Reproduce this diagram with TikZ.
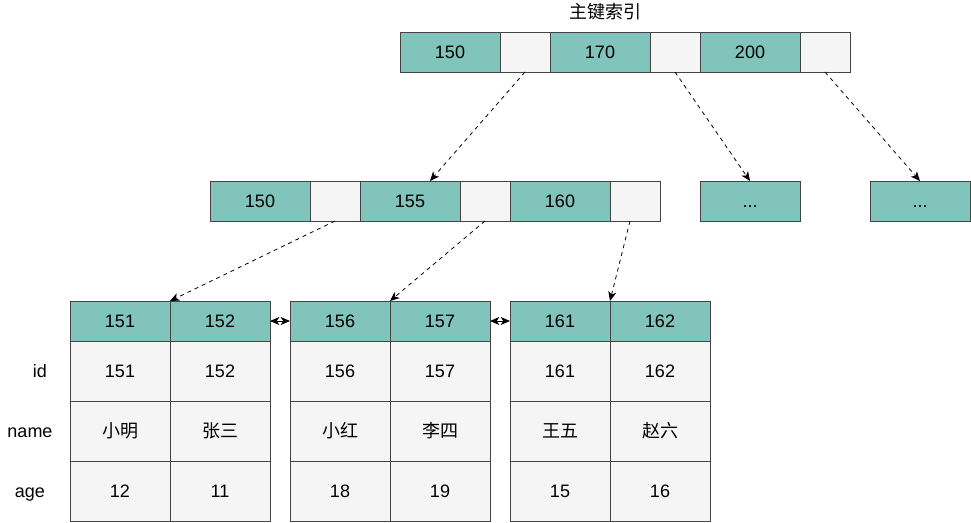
\documentclass[tikz,border=0pt]{standalone}
\usepackage{fontspec}
\setmainfont{Liberation Sans}
\newfontfamily\cjk{Noto Sans CJK SC}
\usepackage{tikz}
\usetikzlibrary{arrows.meta,calc,positioning}

\definecolor{keyfill}{RGB}{128,196,187}
\definecolor{ptrfill}{RGB}{245,245,245}
\definecolor{edgegray}{RGB}{68,68,68}

\tikzset{
  every node/.style={font=\fontsize{13.5}{16}\selectfont, inner sep=0pt, outer sep=0pt,
    text height=10.5pt, text depth=1pt},
  key/.style={draw=edgegray, fill=keyfill, minimum width=75pt, minimum height=30pt},
  ptr/.style={draw=edgegray, fill=ptrfill, minimum width=37.5pt, minimum height=30pt},
  rowcell/.style={draw=edgegray, fill=ptrfill, minimum width=75pt, minimum height=45pt},
  link/.style={->, dashed, line width=0.6pt}
}

\begin{document}
\begin{tikzpicture}[%
    >={Stealth[length=7pt, width=6pt, inset=2pt]},
    x=0.75pt,
    y=-0.75pt,
    line width=0.75pt
  ]
  \useasboundingbox (0,0) rectangle (971,522);

  % root page
  \node (title) at (605,12) {\cjk 主键索引};
  \node[key] (t150) at (450,52) {150};
  \node[ptr] (tp1) [right=0pt of t150] {};
  \node[key] (t170) [right=0pt of tp1] {170};
  \node[ptr] (tp2) [right=0pt of t170] {};
  \node[key] (t200) [right=0pt of tp2] {200};
  \node[ptr] (tp3) [right=0pt of t200] {};

  % inner pages
  \node[key] (m150) at (260,201) {150};
  \node[ptr] (mp1) [right=0pt of m150] {};
  \node[key] (m155) [right=0pt of mp1] {155};
  \node[ptr] (mp2) [right=0pt of m155] {};
  \node[key] (m160) [right=0pt of mp2] {160};
  \node[ptr] (mp3) [right=0pt of m160] {};
  \node[key] (mdots1) at (750,201) {...};
  \node[key] (mdots2) at (920,201) {...};

  % leaf pages
  \node[key] (h151) at (120,321) {151};
  \node[key] (h152) [right=0pt of h151] {152};
  \node[key] (h156) at (340,321) {156};
  \node[key] (h157) [right=0pt of h156] {157};
  \node[key] (h161) at (560,321) {161};
  \node[key] (h162) [right=0pt of h161] {162};

  \node[rowcell] (id151) [below=0pt of h151] {151};
  \node[rowcell] (id152) [below=0pt of h152] {152};
  \node[rowcell] (id156) [below=0pt of h156] {156};
  \node[rowcell] (id157) [below=0pt of h157] {157};
  \node[rowcell] (id161) [below=0pt of h161] {161};
  \node[rowcell] (id162) [below=0pt of h162] {162};

  \node[rowcell] (name151) [below=0pt of id151] {\cjk 小明};
  \node[rowcell] (name152) [below=0pt of id152] {\cjk 张三};
  \node[rowcell] (name156) [below=0pt of id156] {\cjk 小红};
  \node[rowcell] (name157) [below=0pt of id157] {\cjk 李四};
  \node[rowcell] (name161) [below=0pt of id161] {\cjk 王五};
  \node[rowcell] (name162) [below=0pt of id162] {\cjk 赵六};

  \node[rowcell] (age151) [below=0pt of name151] {12};
  \node[rowcell] (age152) [below=0pt of name152] {11};
  \node[rowcell] (age156) [below=0pt of name156] {18};
  \node[rowcell] (age157) [below=0pt of name157] {19};
  \node[rowcell] (age161) [below=0pt of name161] {15};
  \node[rowcell] (age162) [below=0pt of name162] {16};

  \node (lid) at (40,371) {id};
  \node (lname) at (30,431) {name};
  \node (lage) at (30,491) {age};

  \path[link] (tp1.south) edge ($(m155.north)+(20,0)$);
  \path[link] (tp2.south) edge (mdots1.north);
  \path[link] (tp3.south) edge (mdots2.north);
  \path[link] (mp1.south) edge (h151.north east);
  \path[link] (mp2.south) edge (h156.north east);
  \path[link] ($(mp3.south)+(-5,0)$) edge (h161.north east);

  \path[<->] (h152) edge (h156);
  \path[<->] (h157) edge (h161);

  \end{tikzpicture}
\end{document}
